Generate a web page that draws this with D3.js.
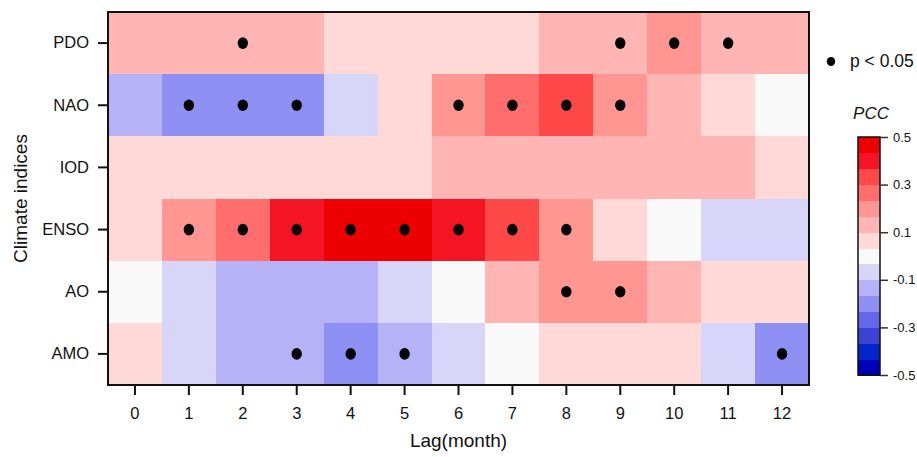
<!DOCTYPE html>
<html>
<head>
<meta charset="utf-8">
<script src="https://cdn.jsdelivr.net/npm/d3@7"></script>
<style>
  html, body { margin: 0; padding: 0; background: #fff; }
  svg { display: block; font-family: "Liberation Sans", Arial, sans-serif; }
</style>
</head>
<body>
<svg id="chart" width="917" height="457"></svg>
<script>
// ---- data ----
const indices = ["PDO", "NAO", "IOD", "ENSO", "AO", "AMO"];
const lags = [0, 1, 2, 3, 4, 5, 6, 7, 8, 9, 10, 11, 12];

const pdo  = [0.13, 0.13, 0.13, 0.13, 0.07, 0.07, 0.07, 0.07, 0.13, 0.13, 0.20, 0.13, 0.13];
const nao  = [-0.13, -0.20, -0.20, -0.20, -0.07, 0.07, 0.20, 0.27, 0.33, 0.20, 0.13, 0.07, 0.00];
const iod  = [0.07, 0.07, 0.07, 0.07, 0.07, 0.07, 0.13, 0.13, 0.13, 0.13, 0.13, 0.13, 0.07];
const enso = [0.07, 0.20, 0.27, 0.40, 0.47, 0.47, 0.40, 0.33, 0.20, 0.07, 0.00, -0.07, -0.07];
const ao   = [0.00, -0.07, -0.13, -0.13, -0.13, -0.07, 0.00, 0.13, 0.20, 0.20, 0.13, 0.07, 0.07];
const amo  = [0.07, -0.07, -0.13, -0.13, -0.20, -0.13, -0.07, 0.00, 0.07, 0.07, 0.07, -0.07, -0.20];

// significance (p < 0.05), 1 = significant
const pdoSig  = [0,0,1,0,0,0,0,0,0,1,1,1,0];
const naoSig  = [0,1,1,1,0,0,1,1,1,1,0,0,0];
const iodSig  = [0,0,0,0,0,0,0,0,0,0,0,0,0];
const ensoSig = [0,1,1,1,1,1,1,1,1,0,0,0,0];
const aoSig   = [0,0,0,0,0,0,0,0,1,1,0,0,0];
const amoSig  = [0,0,0,1,1,1,0,0,0,0,0,0,1];

const colorbarTicks = [0.5, 0.3, 0.1, -0.1, -0.3, -0.5];
const colorbarTickLabels = ["0.5", "0.3", "0.1", "-0.1", "-0.3", "-0.5"];
const paletteColors = ["#0000bb", "#0025c8", "#3c42d2", "#6467ea", "#8f90f3", "#b5b2f8", "#d8d6f8",
                       "#f9f9f9",
                       "#ffd8d8", "#ffb5b3", "#ff9692", "#ff6d6d", "#ff4848", "#f51424", "#ee0000"];

const values = [pdo, nao, iod, enso, ao, amo];
const sigs = [pdoSig, naoSig, iodSig, ensoSig, aoSig, amoSig];

const cells = [];
indices.forEach((name, r) => lags.forEach((lag, c) => {
  cells.push({ name, lag, v: values[r][c], sig: sigs[r][c] });
}));

// ---- layout ----
const svg = d3.select("#chart");
const L = 108, R = 809, T = 12, B = 385;

const x = d3.scaleBand().domain(lags).range([L, R]).padding(0);
const y = d3.scaleBand().domain(indices).range([T, B]).padding(0);
const color = d3.scaleQuantize().domain([-0.5, 0.5]).range(paletteColors);

// cells
svg.append("g").selectAll("rect").data(cells).join("rect")
  .attr("x", d => x(d.lag))
  .attr("y", d => y(d.name))
  .attr("width", x.bandwidth() + 0.5)
  .attr("height", y.bandwidth() + 0.5)
  .attr("fill", d => color(d.v))
  .attr("shape-rendering", "crispEdges");

// significance dots
svg.append("g").selectAll("ellipse").data(cells.filter(d => d.sig)).join("ellipse")
  .attr("cx", d => x(d.lag) + x.bandwidth() / 2)
  .attr("cy", d => y(d.name) + y.bandwidth() / 2)
  .attr("rx", 5.2).attr("ry", 5.8)
  .attr("fill", "#000");

// frame
svg.append("rect")
  .attr("x", L).attr("y", T).attr("width", R - L).attr("height", B - T)
  .attr("fill", "none").attr("stroke", "#111").attr("stroke-width", 2);

// axes
const xAxis = svg.append("g").attr("transform", `translate(0,${B})`)
  .call(d3.axisBottom(x).tickSize(10).tickPadding(12));
const yAxis = svg.append("g").attr("transform", `translate(${L},0)`)
  .call(d3.axisLeft(y).tickSize(10).tickPadding(9));
[xAxis, yAxis].forEach(g => {
  g.select(".domain").remove();
  g.selectAll(".tick line").attr("stroke", "#111").attr("stroke-width", 2);
  g.selectAll(".tick text").attr("fill", "#111").style("font-size", "16.5px")
    .style("font-family", "'Liberation Sans', Arial, sans-serif");
});

// axis titles
svg.append("text")
  .attr("x", (L + R) / 2).attr("y", 447)
  .attr("text-anchor", "middle")
  .style("font-size", "19px").attr("fill", "#111")
  .text("Lag(month)");
svg.append("text")
  .attr("transform", `translate(27,${(T + B) / 2}) rotate(-90)`)
  .attr("text-anchor", "middle")
  .style("font-size", "19px").attr("fill", "#111")
  .text("Climate indices");

// legend: significance
svg.append("ellipse").attr("cx", 831).attr("cy", 61.5).attr("rx", 4.2).attr("ry", 4.6).attr("fill", "#000");
svg.append("text").attr("x", 850).attr("y", 67)
  .style("font-size", "17.5px").attr("fill", "#111").text("p < 0.05");

// colorbar
const cbX = 858, cbW = 22, cbT = 137, cbB = 375;
const cbScale = d3.scaleLinear().domain([-0.5, 0.5]).range([cbB, cbT]);
svg.append("text").attr("x", 871).attr("y", 119)
  .attr("text-anchor", "middle")
  .style("font-size", "17px").style("font-style", "italic").attr("fill", "#111").text("PCC");

const bands = paletteColors.map(c => {
  const [a, b] = color.invertExtent(c);
  return { c, a, b };
});
svg.append("g").selectAll("rect").data(bands).join("rect")
  .attr("x", cbX).attr("width", cbW)
  .attr("y", d => cbScale(d.b))
  .attr("height", d => cbScale(d.a) - cbScale(d.b) + 0.5)
  .attr("fill", d => d.c)
  .attr("shape-rendering", "crispEdges");
svg.append("rect").attr("x", cbX).attr("y", cbT).attr("width", cbW).attr("height", cbB - cbT)
  .attr("fill", "none").attr("stroke", "#111").attr("stroke-width", 1.5);

const cbAxis = svg.append("g").attr("transform", `translate(${cbX + cbW},0)`)
  .call(d3.axisRight(cbScale).tickValues(colorbarTicks)
    .tickFormat((d, i) => colorbarTickLabels[i]).tickSize(8).tickPadding(5));
cbAxis.select(".domain").remove();
cbAxis.selectAll(".tick line").attr("stroke", "#333").attr("stroke-width", 1.5);
cbAxis.selectAll(".tick text").attr("fill", "#111").style("font-size", "13px")
  .style("font-family", "'Liberation Sans', Arial, sans-serif");
</script>
</body>
</html>
